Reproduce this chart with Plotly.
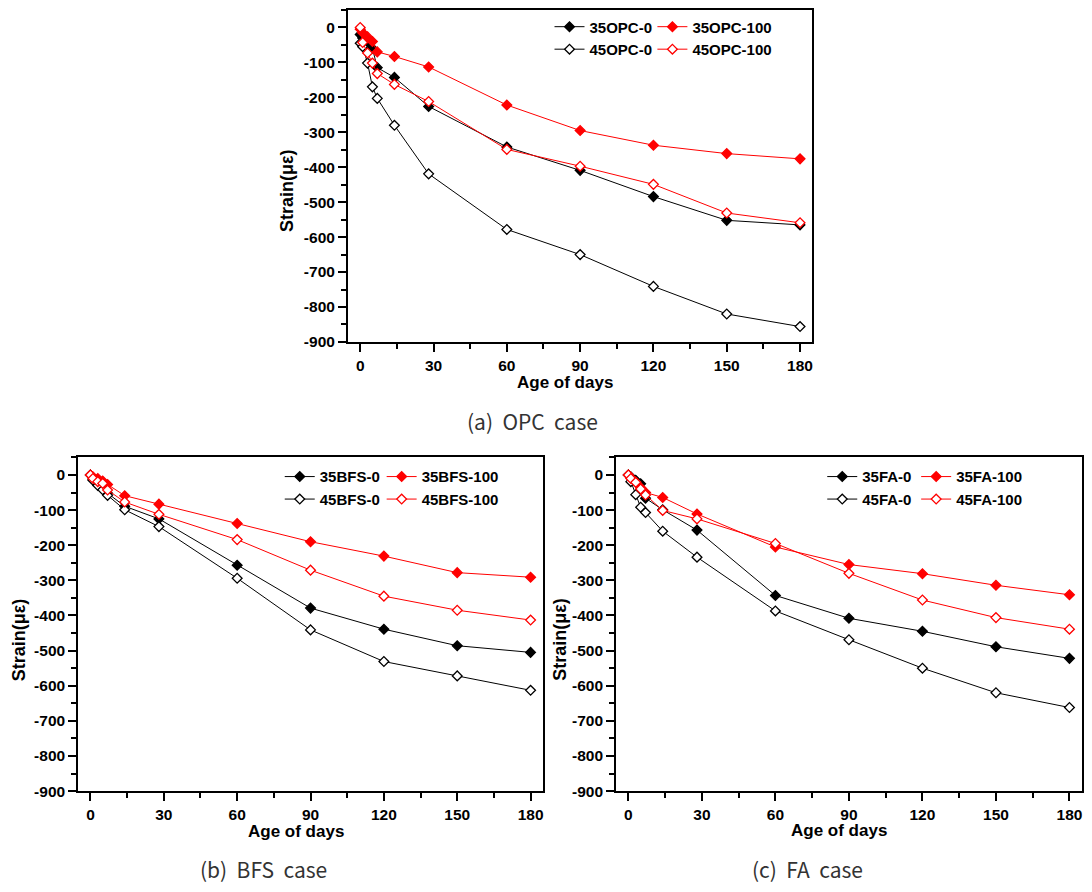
import plotly.graph_objects as go

days = [0, 1, 3, 5, 7, 14, 28, 60, 90, 120, 150, 180]

opc35_0 = [-20, -30, -50, -60, -115, -143, -226, -342, -409, -484, -552, -565]
opc35_100 = [-5, -15, -27, -40, -70, -83, -113, -222, -295, -337, -361, -376]
opc45_0 = [-45, -55, -102, -170, -203, -280, -419, -578, -650, -741, -820, -856]
opc45_100 = [0, -43, -73, -102, -132, -163, -212, -349, -397, -449, -531, -559]

bfs35_0 = [0, -12, -25, -35, -52, -89, -125, -257, -379, -439, -486, -505]
bfs35_100 = [0, -5, -10, -17, -27, -59, -83, -138, -190, -231, -278, -291]
bfs45_0 = [0, -15, -30, -42, -58, -99, -147, -294, -441, -531, -572, -613]
bfs45_100 = [0, -10, -19, -24, -43, -77, -112, -184, -271, -345, -385, -413]

fa35_0 = [0, -5, -15, -25, -66, -99, -157, -343, -408, -445, -489, -522]
fa35_100 = [0, -8, -20, -36, -50, -64, -111, -205, -255, -281, -314, -341]
fa45_0 = [0, -19, -56, -92, -107, -160, -234, -387, -469, -550, -620, -662]
fa45_100 = [0, -10, -21, -40, -57, -101, -125, -195, -280, -356, -406, -439]

x_ticks = [0, 30, 60, 90, 120, 150, 180]
y_ticks = [0, -100, -200, -300, -400, -500, -600, -700, -800, -900]

panels = [
    ("OPC", [opc35_0, opc45_0, opc35_100, opc45_100]),
    ("BFS", [bfs35_0, bfs45_0, bfs35_100, bfs45_100]),
    ("FA", [fa35_0, fa45_0, fa35_100, fa45_100]),
]
captions = ["(a)\u00a0\u00a0OPC\u00a0\u00a0case", "(b)\u00a0\u00a0BFS\u00a0\u00a0case", "(c)\u00a0\u00a0FA\u00a0\u00a0case"]

# page has an 8px body margin; figure is drawn offset by it
OFF = 8
W, H = 1084, 884
# pixel boxes (screen coords) of each panel: left, right, top, bottom
boxes = [(348.3, 813.0, 10.0, 345.0), (78.3, 543.3, 461.5, 798.3), (616.7, 1082.7, 461.5, 798.3)]
legend_pos = [((555, 658), 26.7), ((285, 387), 480.7), ((828, 922), 480.7)]
xtitle_pos = [(566, 386), (296, 839), (840, 838)]
ytitle_pos = [(288, 192), (19, 645), (561, 645)]
caption_pos = [(533, 425), (264, 877), (808, 877)]

def px(x):
    return (x - OFF) / W

def py(y):
    return 1 - (y - OFF) / H

fig = go.Figure()
styles = [
    ("0", "black", "black"),
    ("0", "black", "white"),
    ("100", "red", "red"),
    ("100", "red", "white"),
]
prefixes = ["35", "45", "35", "45"]
tickfont = dict(family="Liberation Sans", size=15.5, color="black")
legfont = dict(family="Liberation Sans", size=15, color="black", weight="bold")

layout = dict(
    width=W, height=H, margin=dict(l=0, r=0, t=0, b=0),
    paper_bgcolor="white", plot_bgcolor="white", showlegend=True,
)
annotations = []
leg_idx = 1
for i, (name, series) in enumerate(panels):
    xa = "xaxis" if i == 0 else f"xaxis{i+1}"
    ya = "yaxis" if i == 0 else f"yaxis{i+1}"
    xr = "x" if i == 0 else f"x{i+1}"
    yr = "y" if i == 0 else f"y{i+1}"
    l, r, t, b = boxes[i]
    minor = dict(ticks="outside", ticklen=5, tickwidth=2, tickcolor="black", showgrid=False)
    common = dict(
        showline=True, linecolor="black", linewidth=2, mirror=True,
        ticks="outside", ticklen=8, tickwidth=2, tickcolor="black",
        showgrid=False, zeroline=False, tickfont=tickfont,
    )
    layout[xa] = dict(common, domain=[px(l), px(r)], anchor=yr, range=[-5, 185],
                      tickmode="array", tickvals=x_ticks,
                      ticktext=[f"<b>{v}</b>" for v in x_ticks],
                      minor=dict(minor, tickmode="linear", tick0=0, dtick=15))
    layout[ya] = dict(common, domain=[py(b), py(t)], anchor=xr, range=[-900, 50],
                      tickmode="array", tickvals=y_ticks,
                      ticktext=[f"<b>{v}</b>" for v in y_ticks],
                      minor=dict(minor, tickmode="linear", tick0=0, dtick=50))

    (lx1, lx2), row1 = legend_pos[i]
    for j, lx in enumerate([lx1, lx2]):
        key = "legend" if (leg_idx + j) == 1 else f"legend{leg_idx + j}"
        layout[key] = dict(
            x=px(lx - 5), y=py(row1 - 16.25), xanchor="left", yanchor="top",
            xref="paper", yref="paper", bgcolor="rgba(0,0,0,0)", borderwidth=0,
            font=legfont, tracegroupgap=0, orientation="v",
        )
    for k, vals in enumerate(series):
        suffix, lc, fc = styles[k]
        lkey = "legend" if (leg_idx + k // 2) == 1 else f"legend{leg_idx + k // 2}"
        fig.add_trace(go.Scatter(
            x=days, y=vals, mode="lines+markers",
            name=f"{prefixes[k]}{name}-{suffix}",
            line=dict(color=lc, width=1),
            marker=dict(symbol="diamond", size=7.5, color=fc, line=dict(color=lc, width=1.3)),
            xaxis=xr, yaxis=yr, legend=lkey,
        ))
    leg_idx += 2

    annotations.append(dict(
        text="<b>Age of days</b>", x=px(xtitle_pos[i][0]), y=py(xtitle_pos[i][1]),
        xref="paper", yref="paper", showarrow=False, xanchor="center", yanchor="middle",
        font=dict(family="Liberation Sans", size=17, color="black"),
    ))
    annotations.append(dict(
        text="<b>Strain(με)</b>", x=px(ytitle_pos[i][0]), y=py(ytitle_pos[i][1]),
        xref="paper", yref="paper", showarrow=False, xanchor="center", yanchor="middle",
        textangle=-90,
        font=dict(family="Liberation Sans", size=18, color="black"),
    ))
    annotations.append(dict(
        text=captions[i], x=px(caption_pos[i][0]), y=py(caption_pos[i][1]),
        xref="paper", yref="paper", showarrow=False, xanchor="center", yanchor="middle",
        font=dict(family="Noto Sans CJK KR", size=21, color="#333333"),
    ))

layout["annotations"] = annotations
fig.update_layout(**layout)
fig.write_html("out.html")
